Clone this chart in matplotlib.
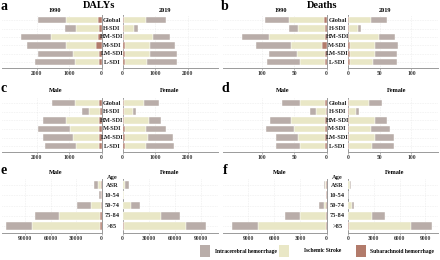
import numpy as np
import matplotlib
matplotlib.use("Agg")
import matplotlib.pyplot as plt
from matplotlib.patches import Rectangle
from matplotlib.transforms import blended_transform_factory

# categories
sdi = ["Global", "H-SDI", "HM-SDI", "M-SDI", "LM-SDI", "L-SDI"]
ages = ["ASR", "10-54", "50-74", "75-84", ">85"]
causes = ["Intracerebral hemorrhage", "Ischemic Stroke", "Subarachnoid hemorrhage"]

# a: DALYs, 1990 vs 2019
dalys_1990_sah = [120, 80, 100, 185, 70, 70]
dalys_1990_is = [980, 714, 1477, 908, 827, 755]
dalys_1990_ich = [870, 340, 928, 1207, 1072, 1227]
dalys_2019_sah = [60, 50, 60, 70, 70, 70]
dalys_2019_is = [660, 290, 880, 770, 770, 690]
dalys_2019_ich = [600, 145, 520, 780, 820, 900]

# b: deaths, 1990 vs 2019
deaths_1990_sah = [3.6, 2, 3, 7, 2.5, 2.5]
deaths_1990_is = [55.4, 43, 87, 48, 43.5, 39.5]
deaths_1990_ich = [37, 13, 41, 54, 43, 50]
deaths_2019_sah = [2, 1.5, 2, 2.5, 2.5, 2.5]
deaths_2019_is = [35, 14.5, 47, 40.5, 40.5, 37.5]
deaths_2019_ich = [25, 5, 25, 36, 35, 38]

# c: DALYs by sex
dalys_male_sah = [70, 55, 65, 70, 65, 65]
dalys_male_is = [740, 345, 1025, 900, 820, 715]
dalys_male_ich = [730, 200, 710, 990, 915, 970]
dalys_female_sah = [60, 50, 60, 65, 65, 65]
dalys_female_is = [610, 260, 740, 655, 715, 645]
dalys_female_ich = [455, 105, 390, 610, 760, 870]

# d: deaths by sex
deaths_male_sah = [2.5, 1.5, 2.5, 2.5, 2.5, 2.5]
deaths_male_is = [38.5, 14.5, 53.5, 47.5, 42.5, 38.5]
deaths_male_ich = [29, 9, 32, 44, 34, 38]
deaths_female_sah = [2, 1.5, 2, 2, 2, 2]
deaths_female_is = [31, 11.5, 41, 35, 40, 36]
deaths_female_ich = [21, 5, 18, 29, 31, 35]

# e: DALYs by age
dalys_age_male_sah = [300, 300, 800, 1200, 1500]
dalys_age_male_is = [4400, 800, 12100, 48600, 80900]
dalys_age_male_ich = [4700, 2000, 15700, 28200, 30100]
dalys_age_female_sah = [300, 300, 700, 1000, 1300]
dalys_age_female_is = [2400, 900, 8900, 43000, 71500]
dalys_age_female_ich = [4200, 300, 10400, 22000, 23000]

# f: deaths by age
deaths_age_male_sah = [20, 10, 30, 60, 100]
deaths_age_male_is = [210, 20, 280, 2950, 7815]
deaths_age_male_ich = [50, 30, 500, 1820, 3015]
deaths_age_female_sah = [15, 10, 20, 40, 60]
deaths_age_female_is = [255, 15, 405, 2740, 7276]
deaths_age_female_ich = [40, 20, 230, 1545, 2430]

C_ICH = "#b9ada9"
C_IS = "#e9e7c6"
C_SAH = "#b27b6b"
FONT = "Liberation Serif"

W, H = 440, 260
fig = plt.figure(figsize=(W / 100, H / 100), dpi=100)
fig.patch.set_facecolor("white")


def box(x0, x1, y0, y1):
    return [x0 / W, 1 - y1 / H, (x1 - x0) / W, (y1 - y0) / H]


def ftext(x, y, s, size, **kw):
    fig.text(x / W, 1 - y / H, s, fontsize=size, family=FONT, weight="bold",
             ha=kw.pop("ha", "center"), va=kw.pop("va", "center"), **kw)


def half(x0, x1, y0, y1, n, sah, isch, ich, xmax, ticks, left):
    ax = fig.add_axes(box(x0, x1, y0, y1))
    y = np.arange(n)
    sah = np.array(sah, float)
    isch = np.array(isch, float)
    ich = np.array(ich, float)
    kw = dict(height=0.76, edgecolor="white", linewidth=0.3, zorder=3)
    ax.barh(y, sah, color=C_SAH, **kw)
    ax.barh(y, isch, left=sah, color=C_IS, **kw)
    ax.barh(y, ich, left=sah + isch, color=C_ICH, **kw)
    ax.set_xlim((xmax, 0) if left else (0, xmax))
    ax.set_ylim(n - 1 + 0.68, -0.6)
    ax.set_yticks(y)
    ax.set_yticklabels([])
    ax.tick_params(axis="y", length=0)
    ax.set_xticks(ticks)
    ax.set_xticklabels([str(t) for t in ticks], fontsize=4, family=FONT,
                       weight="bold", color="#333333")
    ax.tick_params(axis="x", length=1.5, width=0.5, pad=1, color="#999999")
    ax.grid(True, linestyle=(0, (1, 2)), linewidth=0.4, color="#dddddd", zorder=0)
    ax.spines["top"].set_visible(False)
    ax.spines["left" if left else "right"].set_visible(False)
    for s in ["bottom", "right" if left else "left"]:
        ax.spines[s].set_color("#9a9a9a")
        ax.spines[s].set_linewidth(0.7)
    return ax


def panel(col, y0, y1, cats, left_data, right_data, lims, ticks):
    if col == 0:
        lx, mid, rx = (2, 101.5), 112, (122.5, 218)
    else:
        lx, mid, rx = (223, 326.5), 337.5, (348, 438)
    n = len(cats)
    axl = half(lx[0], lx[1], y0, y1, n, *left_data, lims[0], ticks, True)
    half(rx[0], rx[1], y0, y1, n, *right_data, lims[1], ticks, False)
    tr = blended_transform_factory(fig.transFigure, axl.transData)
    for i, c in enumerate(cats):
        fig.text(mid / W, i, c, transform=tr, fontsize=4.6, family=FONT,
                 weight="bold", ha="center", va="center", color="#222222")
    return axl, tr, mid


# row 1
panel(0, 15, 68, sdi,
      (dalys_1990_sah, dalys_1990_is, dalys_1990_ich),
      (dalys_2019_sah, dalys_2019_is, dalys_2019_ich),
      (3080, 2930), [0, 1000, 2000])
panel(1, 15, 68, sdi,
      (deaths_1990_sah, deaths_1990_is, deaths_1990_ich),
      (deaths_2019_sah, deaths_2019_is, deaths_2019_ich),
      (161, 142), [0, 50, 100])

# row 2
panel(0, 98, 152, sdi,
      (dalys_male_sah, dalys_male_is, dalys_male_ich),
      (dalys_female_sah, dalys_female_is, dalys_female_ich),
      (3080, 2930), [0, 1000, 2000])
panel(1, 98, 152, sdi,
      (deaths_male_sah, deaths_male_is, deaths_male_ich),
      (deaths_female_sah, deaths_female_is, deaths_female_ich),
      (161, 142), [0, 50, 100])

# row 3
for col, ld, rd, lims, ticks in [
    (0, (dalys_age_male_sah, dalys_age_male_is, dalys_age_male_ich),
     (dalys_age_female_sah, dalys_age_female_is, dalys_age_female_ich),
     (117300, 109500), [0, 30000, 60000, 90000]),
    (1, (deaths_age_male_sah, deaths_age_male_is, deaths_age_male_ich),
     (deaths_age_female_sah, deaths_age_female_is, deaths_age_female_ich),
     (11930, 10470), [0, 3000, 6000, 9000]),
]:
    axl, tr, mid = panel(col, 179, 233, ages, ld, rd, lims, ticks)
    fig.text(mid / W, -0.7, "Age", transform=tr, fontsize=4.6, family=FONT,
             weight="bold", ha="center", va="center", color="#222222")

# titles, subtitles and panel letters
ftext(99, 5, "DALYs", 7.5)
ftext(322, 5, "Deaths", 7.5)
for x, y, s in [(54.5, 10, "1990"), (165, 10, "2019"), (281, 10, "1990"), (385, 10, "2019"),
                (56, 91, "Male"), (170, 91, "Female"), (283, 91, "Male"), (397, 91, "Female"),
                (56, 173, "Male"), (170, 173, "Female"), (280, 173, "Male"), (395, 173, "Female")]:
    ftext(x, y, s, 4.5)
for x, y, s in [(4, 6, "a"), (225, 6, "b"), (4, 89, "c"), (225, 89, "d"),
                (4, 171, "e"), (225, 170, "f")]:
    ftext(x, y, s, 10)

# legend: key squares and labels
for (kx, tx), col, lab in zip([(200, 215), (279, 304), (356, 370)],
                              [C_ICH, C_IS, C_SAH], causes):
    fig.add_artist(Rectangle((kx / W, 1 - 257 / H), 10 / W, 12 / H,
                             transform=fig.transFigure, facecolor=col, edgecolor="none"))
    ftext(tx, 251, lab, 4, ha="left")

fig.savefig("out.png", dpi=100, facecolor="white")
